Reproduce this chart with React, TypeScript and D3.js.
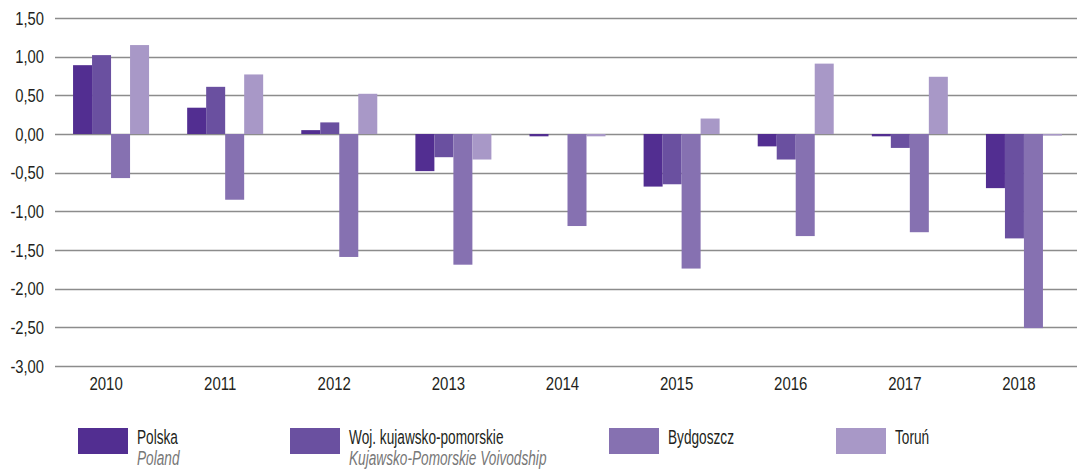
import React, { useEffect, useRef } from "react";
import * as d3 from "d3";

const years = ["2010", "2011", "2012", "2013", "2014", "2015", "2016", "2017", "2018"];
const polska = [0.89, 0.34, 0.05, -0.48, -0.03, -0.68, -0.16, -0.03, -0.7];
const wojKP = [1.02, 0.61, 0.15, -0.3, 0, -0.65, -0.33, -0.18, -1.35];
const bydgoszcz = [-0.57, -0.85, -1.59, -1.69, -1.19, -1.74, -1.32, -1.27, -2.51];
const torun = [1.15, 0.77, 0.52, -0.33, -0.03, 0.2, 0.91, 0.74, -0.02];
const yTicks = [1.5, 1, 0.5, 0, -0.5, -1, -1.5, -2, -2.5, -3];

const seriesNames = ["Polska", "Woj. kujawsko-pomorskie", "Bydgoszcz", "Toruń"];
const seriesNamesEn = ["Poland", "Kujawsko-Pomorskie Voivodship", "", ""];
const colors = ["#522e91", "#6a50a0", "#8671b1", "#a898c7"];

const App = () => {
  const svgRef = useRef<SVGSVGElement>(null);

  useEffect(() => {
    const width = 1077;
    const height = 470;
    const svg = d3.select(svgRef.current);
    svg.selectAll("*").remove();
    svg.attr("width", width).attr("height", height);

    const font = "'Liberation Sans', Arial, sans-serif";
    const allSeries = [polska, wojKP, bydgoszcz, torun];

    // condensed-looking text: squeeze horizontally
    const label = (g, tx, ty, txt, size, sx, anchor = "start", fill = "#231f20", italic = false) =>
      g.append("text")
        .attr("transform", `translate(${tx},${ty}) scale(${sx},1)`)
        .attr("text-anchor", anchor)
        .style("font-family", font)
        .style("font-size", size + "px")
        .style("font-style", italic ? "italic" : "normal")
        .attr("fill", fill)
        .text(txt);

    const x = d3.scaleBand().domain(years).range([54, 1081]);
    const x1 = d3.scaleBand().domain(seriesNames).range([0, 76]);
    const groupOffset = (x.bandwidth() - 76) / 2;

    const y = d3.scaleLinear().domain([-3, 1.5]).range([366, 18]);

    // gridlines
    svg.append("g")
      .selectAll("line")
      .data(yTicks)
      .join("line")
      .attr("x1", 55)
      .attr("x2", width)
      .attr("y1", d => Math.round(y(d)) + 0.5)
      .attr("y2", d => Math.round(y(d)) + 0.5)
      .attr("stroke", "#8c8c8c")
      .attr("stroke-width", 1.3);

    // y labels
    const yl = svg.append("g");
    yTicks.forEach(d => {
      label(yl, 44, y(d) + 6.5, d3.format(".2f")(d).replace(".", ",").replace("−", "-"), 18, 0.82, "end");
    });

    // x labels
    const xl = svg.append("g");
    years.forEach(d => {
      label(xl, (x(d) as number) + x.bandwidth() / 2 - 5, 390, d, 18.5, 0.81, "middle");
    });

    // bars
    allSeries.forEach((vals, si) => {
      svg.append("g")
        .selectAll("rect")
        .data(vals)
        .join("rect")
        .attr("x", (d, i) => (x(years[i]) as number) + groupOffset + (x1(seriesNames[si]) as number))
        .attr("y", d => y(Math.max(0, d)))
        .attr("width", x1.bandwidth())
        .attr("height", d => Math.abs(y(d) - y(0)))
        .attr("fill", colors[si]);
    });

    // legend
    const legendX = [78, 290, 609, 836];
    seriesNames.forEach((name, i) => {
      const g = svg.append("g").attr("transform", `translate(${legendX[i]},428)`);
      g.append("rect").attr("width", 50).attr("height", 26).attr("fill", colors[i]);
      label(g, 59, 15.5, name, 19.5, 0.7);
      if (seriesNamesEn[i]) {
        label(g, 59, 37, seriesNamesEn[i], 19.5, 0.7, "start", "#777", true);
      }
    });
  }, []);

  return (
    <div style={{ position: "absolute", left: 0, top: 0 }}>
      <svg ref={svgRef}></svg>
    </div>
  );
};

export default App;
